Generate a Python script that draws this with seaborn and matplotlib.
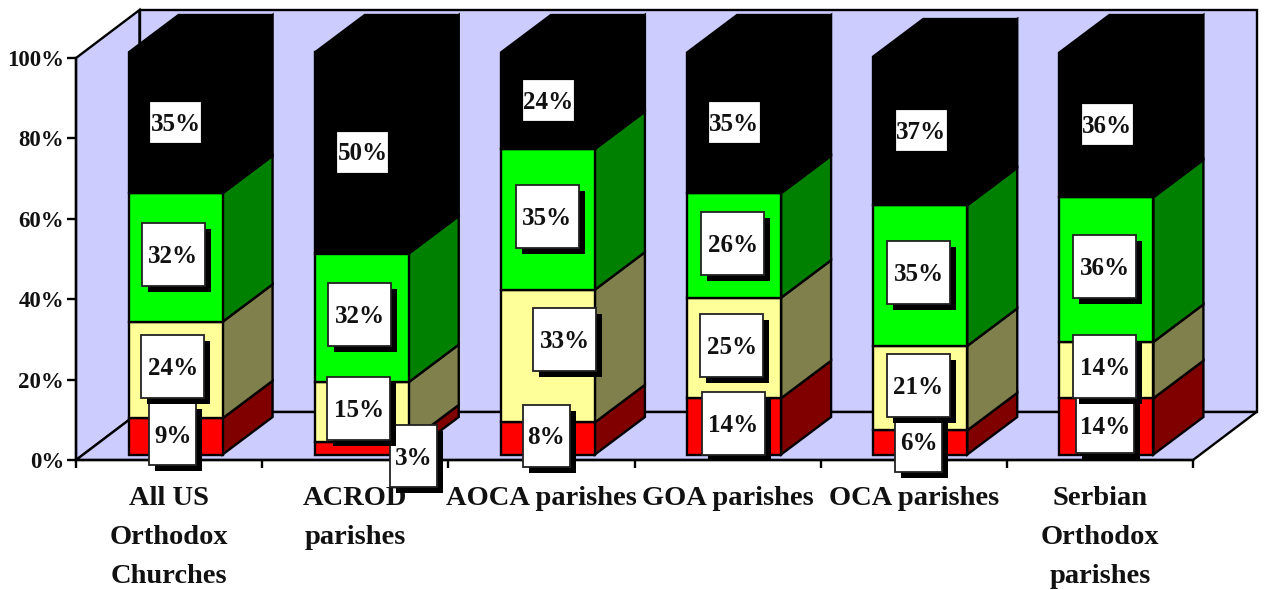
import numpy as np
import seaborn as sns
import matplotlib.pyplot as plt
from matplotlib.patches import Polygon, Rectangle
from matplotlib.transforms import IdentityTransform

categories = ['All US\nOrthodox\nChurches', 'ACROD\nparishes', 'AOCA parishes',
              'GOA parishes', 'OCA parishes', 'Serbian\nOrthodox\nparishes']
red_vals = [9, 3, 8, 14, 6, 14]
yellow_vals = [24, 15, 33, 25, 21, 14]
green_vals = [32, 32, 35, 26, 35, 36]
black_vals = [35, 50, 24, 35, 37, 36]
y_ticks = [0, 20, 40, 60, 80, 100]

front_colors = ['#ff0000', '#ffff99', '#00ff00', '#000000']
side_colors = ['#800000', '#80804d', '#008000', '#000000']
WALL = '#ccccff'

# label nudges in pixels from the middle of each segment (x right, y down)
red_nudge = [(-2.6, -2.4), (52.2, 8), (-1.9, -2.9), (-.6, -2.9), (-1.3, -1.4), (-1, -.9)]
yellow_nudge = [(-2.6, -3.6), (-2.8, -3.8), (16.6, -16.5), (-2.1, -2.5), (-1.8, -2.7), (-1.5, -3.6)]
green_nudge = [(-2.1, -3), (-1.8, -3.3), (-.9, -2.8), (-1.1, -2), (-1.3, -3.1), (-1.5, -3.1)]
black_nudge = [(.4, -.8), (.7, -1), (.6, -.7), (.4, -.8), (1.2, -.4), (1, .1)]

W, H = 1264, 590
LEFT, RIGHT, ZERO, TOP = 76, 1193, 460, 58
CAT_PX = (RIGHT - LEFT) / 6
VAL_PX = (ZERO - TOP) / 100
WALL_DX = 63.5 / CAT_PX   # depth of the box in data units
WALL_DY = 48 / VAL_PX
BAR_DX = 50 / CAT_PX      # depth of a bar
BAR_DY = 37.5 / VAL_PX
BAR_SHIFT = 6.5 / CAT_PX  # bars stand a little behind the front edge
BAR_LIFT = 5.5 / VAL_PX
BAR_W = 94 / CAT_PX
LINE = 1.7

sns.set_style('white')
plt.rcParams['font.family'] = ['Liberation Serif', 'DejaVu Serif']
plt.rcParams['font.weight'] = 'bold'

fig = plt.figure(figsize=(W / 100, H / 100), dpi=100)
ax = fig.add_axes([LEFT / W, 1 - ZERO / H, (RIGHT - LEFT) / W, (ZERO - TOP) / H])
ax.patch.set_alpha(0)


def poly(points, color, z, edge='black'):
    ax.add_patch(Polygon(points, closed=True, facecolor=color, edgecolor=edge,
                         linewidth=LINE, joinstyle='miter', clip_on=False, zorder=z))


x0, x1 = -0.5, 5.5
ax.set_xlim(x0, x1)
ax.set_ylim(0, 100)

# box walls and floor
poly([(x0, 0), (x0, 100), (x0 + WALL_DX, 100 + WALL_DY), (x0 + WALL_DX, WALL_DY)], WALL, 0.5)
poly([(x0 + WALL_DX, WALL_DY), (x0 + WALL_DX, 100 + WALL_DY),
      (x1 + WALL_DX, 100 + WALL_DY), (x1 + WALL_DX, WALL_DY)], WALL, 0.5)
poly([(x0, 0), (x0 + WALL_DX, WALL_DY), (x1 + WALL_DX, WALL_DY), (x1, 0)], WALL, 0.5)

series = [red_vals, yellow_vals, green_vals, black_vals]
nudges = [red_nudge, yellow_nudge, green_nudge, black_nudge]
positions = np.arange(6) + BAR_SHIFT
bottoms = np.zeros(6) + BAR_LIFT

mids = []
for vals, front, side in zip(series, front_colors, side_colors):
    vals = np.array(vals, dtype=float)
    sns.barplot(x=positions, y=vals, bottom=bottoms, color=front, saturation=1,
                width=BAR_W, native_scale=True, errorbar=None, edgecolor='black',
                linewidth=LINE, ax=ax, zorder=1.2, clip_on=False)
    for px, b, v in zip(positions, bottoms, vals):
        r = px + BAR_W / 2
        poly([(r, b), (r + BAR_DX, b + BAR_DY), (r + BAR_DX, b + v + BAR_DY), (r, b + v)], side, 1.1)
    mids.append(bottoms + vals / 2)
    bottoms = bottoms + vals

# black tops of the columns
for px, b in zip(positions, bottoms):
    l, r = px - BAR_W / 2, px + BAR_W / 2
    poly([(l, b), (l + BAR_DX, b + BAR_DY), (r + BAR_DX, b + BAR_DY), (r, b)], '#000000', 1.1)

ax.set_xlim(x0, x1)
ax.set_ylim(0, 100)
ax.set_ylabel('')
ax.set_xlabel('')
ax.set_xticks(range(6))
ax.set_xticklabels(categories, fontsize=20.5, linespacing=1.72, color='#111111')
ax.set_xticks(np.arange(x0, x1 + 1), minor=True)
ax.set_yticks(y_ticks)
ax.set_yticklabels([f'{t}%' for t in y_ticks], fontsize=16.5, color='#111111')
ax.tick_params(axis='x', which='major', length=0, pad=19)
ax.tick_params(axis='x', which='minor', length=6, width=LINE, color='black', bottom=True)
ax.tick_params(axis='y', length=6.5, width=LINE, color='black', pad=2, left=True)
sns.despine(ax=ax, top=True, right=True)
for s in ['left', 'bottom']:
    ax.spines[s].set_linewidth(LINE)
    ax.spines[s].set_color('black')

# data labels: white cards with a hard black shadow
for j, (vals, nudge) in enumerate(zip(series, nudges)):
    for i, v in enumerate(vals):
        cx, cy = ax.transData.transform((positions[i], mids[j][i]))
        cx += nudge[i][0]
        cy -= nudge[i][1]
        if j == 3:
            bw, bh = 49, 39
        elif v < 10:
            bw, bh = 47, 62
        else:
            bw, bh = 63, 63
        if j == 0 and v == 14 and i == 5:
            bw, bh = 58, 56
        ec = 'white' if j == 3 else '#222222'
        z = 5 + j
        ax.add_patch(Rectangle((cx - bw / 2 + 6, cy - bh / 2 - 6), bw, bh, facecolor='black',
                               edgecolor='none', transform=IdentityTransform(), clip_on=False, zorder=z))
        ax.add_patch(Rectangle((cx - bw / 2, cy - bh / 2), bw, bh, facecolor='white', edgecolor=ec,
                               linewidth=1.3, transform=IdentityTransform(), clip_on=False, zorder=z))
        ax.text(cx, cy - 2, f'{v}%', transform=IdentityTransform(), ha='center', va='center',
                fontsize=18, color='#111111', clip_on=False, zorder=z)

fig.savefig('out.png', dpi=100, facecolor='white')
